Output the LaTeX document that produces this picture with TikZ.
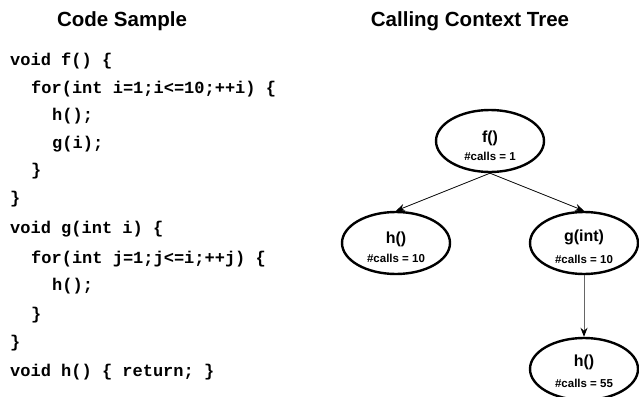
\documentclass[tikz,border=0pt]{standalone}
\usepackage{fontspec}
\usetikzlibrary{shapes.geometric,arrows.meta}
\newfontfamily\hvfont{Liberation Sans}
\newfontfamily\courfont{Liberation Mono}
\begin{document}
\begin{tikzpicture}[x=1pt,y=-1pt,
  title/.style={font=\hvfont\bfseries\fontsize{20.5}{24}\selectfont,anchor=base,inner sep=0},
  code/.style={font=\courfont\bfseries\fontsize{17}{20}\selectfont,anchor=base west,inner sep=0},
  ell/.style={draw,shape=ellipse,line width=2.4pt,minimum width=108pt,minimum height=62pt,inner sep=0},
  fname/.style={font=\hvfont\bfseries\fontsize{16}{19}\selectfont,anchor=base,inner sep=0},
  calls/.style={font=\hvfont\bfseries\fontsize{11.5}{14}\selectfont,anchor=base,inner sep=0},
  arr/.style={-{Stealth[length=9pt,width=7pt]},line width=0.8pt},
]
\useasboundingbox (0,0) rectangle (639,396);
\clip (0,0) rectangle (639,396);
% titles
\node[title] (t1) at (122,27) {Code Sample};
\node[title] (t2) at (470,27) {Calling Context Tree};
% code
\node[code] (c1) at (10,65) {void f() \{};
\node[code] (c2) at (31,93) {for(int i=1;i<=10;++i) \{};
\node[code] (c3) at (52,120) {h();};
\node[code] (c4) at (52,148) {g(i);};
\node[code] (c5) at (31,175) {\}};
\node[code] (c6) at (10,203) {\}};
\node[code] (c7) at (10,233) {void g(int i) \{};
\node[code] (c8) at (31,263) {for(int j=1;j<=i;++j) \{};
\node[code] (c9) at (52,290) {h();};
\node[code] (c10) at (31,319) {\}};
\node[code] (c11) at (10,347) {\}};
\node[code] (c12) at (10,376) {void h() \{ return; \}};
% tree
\node[ell] (fe) at (490,141) {};
\node[ell] (he) at (396,243) {};
\node[ell] (ge) at (584,243) {};
\node[ell] (h2e) at (584,369) {};
\node[fname] (fl) at (490,142) {f()};
\node[calls] (fc) at (490,160) {\#calls = 1};
\node[fname] (hl) at (396,243) {h()};
\node[calls] (hc) at (396,262) {\#calls = 10};
\node[fname] (gl) at (584,241) {g(int)};
\node[calls] (gc) at (584,263) {\#calls = 10};
\node[fname] (h2l) at (584,366) {h()};
\node[calls] (h2c) at (584,387) {\#calls = 55};
\draw[arr] (fe.south) -- (he.north);
\draw[arr] (fe.south) -- (ge.north);
\draw[arr,draw=black!60,-{Stealth[length=9pt,width=7pt,black]}] (ge.south) -- (h2e.north);
\end{tikzpicture}
\end{document}
